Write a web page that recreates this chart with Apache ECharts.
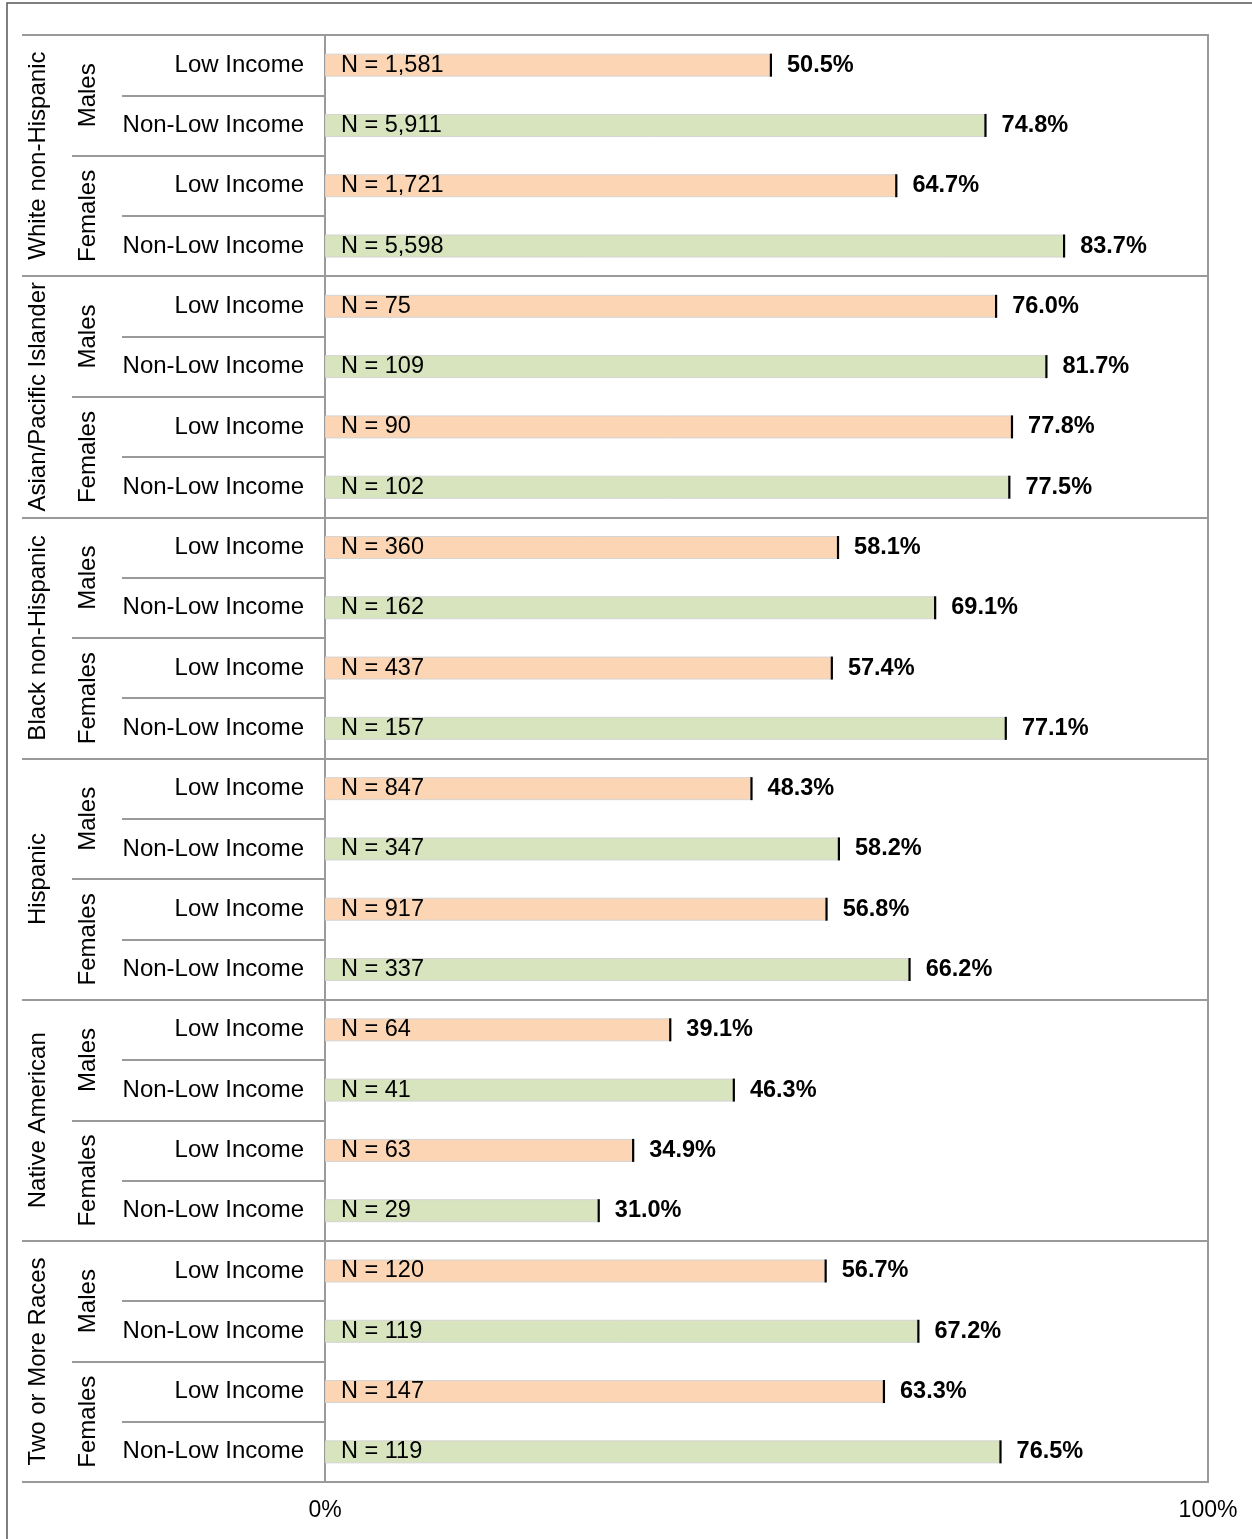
<!DOCTYPE html>
<html>
<head>
<meta charset="utf-8">
<title>Percent by race, gender and income</title>
<script src="https://cdn.jsdelivr.net/npm/echarts@6/dist/echarts.min.js"></script>
<style>
  html, body { margin: 0; padding: 0; background: #fff; }
  #chart { width: 1252px; height: 1539px; }
</style>
</head>
<body>
<div id="chart"></div>
<script>
// Grouping levels, outermost first
const races = ['White non-Hispanic', 'Asian/Pacific Islander', 'Black non-Hispanic', 'Hispanic', 'Native American', 'Two or More Races'];
const genders = ['Males', 'Females'];
const incomes = ['Low Income', 'Non-Low Income'];

// One entry per row, in race > gender > income order
const sampleSizes = [1581, 5911, 1721, 5598,
                     75, 109, 90, 102,
                     360, 162, 437, 157,
                     847, 347, 917, 337,
                     64, 41, 63, 29,
                     120, 119, 147, 119];
const percents = [50.5, 74.8, 64.7, 83.7,
                  76.0, 81.7, 77.8, 77.5,
                  58.1, 69.1, 57.4, 77.1,
                  48.3, 58.2, 56.8, 66.2,
                  39.1, 46.3, 34.9, 31.0,
                  56.7, 67.2, 63.3, 76.5];

const FONT = "'Liberation Sans', Arial, Helvetica, sans-serif";
const LINE = '#9a9a9a';
const LOW_COLOR = '#FCD5B5';
const NONLOW_COLOR = '#D7E4BD';

// Category keys for each level of the hierarchy
const rowKeys = [];
const genderKeys = [];
races.forEach(r => genders.forEach(g => {
  genderKeys.push(r + '|' + g);
  incomes.forEach(inc => rowKeys.push(r + '|' + g + '|' + inc));
}));
const lastPart = s => s.split('|').pop();

const GRID = { left: 325, right: 44, top: 35, bottom: 57 };

function labelAxis(data, offset, fontSize) {
  return {
    type: 'category', data, inverse: true, position: 'left', offset,
    axisLine: { show: false }, axisTick: { show: false }, splitLine: { show: false },
    axisLabel: {
      interval: 0, rotate: 90, margin: 0, align: 'center', verticalAlign: 'middle',
      formatter: v => lastPart(v), color: '#000', fontSize, fontFamily: FONT
    }
  };
}
function tickAxis(data, offset, withSplit) {
  return {
    type: 'category', data, inverse: true, position: 'left', offset,
    axisLine: { show: false },
    axisTick: { show: true, inside: true, length: offset, interval: 0, lineStyle: { color: LINE, width: 2 } },
    axisLabel: { show: false },
    splitLine: { show: !!withSplit, interval: 0, lineStyle: { color: LINE, width: 2 } }
  };
}

const chart = echarts.init(document.getElementById('chart'), null, { renderer: 'canvas' });

chart.setOption({
  animation: false,
  backgroundColor: '#fff',
  textStyle: { fontFamily: FONT },
  grid: Object.assign({ show: true, borderColor: LINE, borderWidth: 2, containLabel: false, outerBoundsMode: 'none' }, GRID),
  xAxis: {
    type: 'value', min: 0, max: 100, interval: 100,
    axisLine: { show: false }, axisTick: { show: false }, splitLine: { show: false },
    axisLabel: { formatter: '{value}%', color: '#000', fontSize: 23, fontFamily: FONT, margin: 17 }
  },
  yAxis: [
    {
      // income rows
      type: 'category', data: rowKeys, inverse: true, position: 'left', offset: 0,
      axisLine: { show: true, lineStyle: { color: LINE, width: 2 } },
      axisTick: { show: true, inside: false, length: 203, interval: 0, lineStyle: { color: LINE, width: 2 } },
      splitLine: { show: false },
      axisLabel: { interval: 0, margin: 21, formatter: v => lastPart(v), color: '#000', fontSize: 24, fontFamily: FONT }
    },
    tickAxis(genderKeys, 253, false),
    labelAxis(genderKeys, 237, 24),
    tickAxis(races, 303, true),
    labelAxis(races, 287, 24)
  ],
  graphic: [{
    type: 'rect', silent: true, z: 100,
    shape: { x: 7, y: 3, width: 1300, height: 1600 },
    style: { fill: 'none', stroke: '#555', lineWidth: 1.5 }
  }],
  series: [
    {
      type: 'bar', yAxisIndex: 0, barWidth: 23, silent: true,
      data: percents,
      itemStyle: {
        color: p => (p.dataIndex % 2 === 0 ? LOW_COLOR : NONLOW_COLOR),
        borderColor: '#d4d4d4', borderWidth: 1
      },
      label: {
        show: true, position: 'insideLeft', distance: 16,
        formatter: p => 'N = ' + sampleSizes[p.dataIndex].toLocaleString('en-US'),
        color: '#000', fontSize: 23.5, fontFamily: FONT
      }
    },
    {
      // dark end mark of each bar, carrying the percentage label
      type: 'scatter', yAxisIndex: 0, silent: true, z: 5,
      symbol: 'rect', symbolSize: [2.2, 23],
      itemStyle: { color: '#000', opacity: 1 },
      data: percents.map((v, i) => [v, i]),
      label: {
        show: true, position: 'right', distance: 15,
        formatter: p => percents[p.dataIndex].toFixed(1) + '%',
        color: '#000', fontSize: 23.5, fontWeight: 'bold', fontFamily: FONT
      }
    }
  ]
});
</script>
</body>
</html>
